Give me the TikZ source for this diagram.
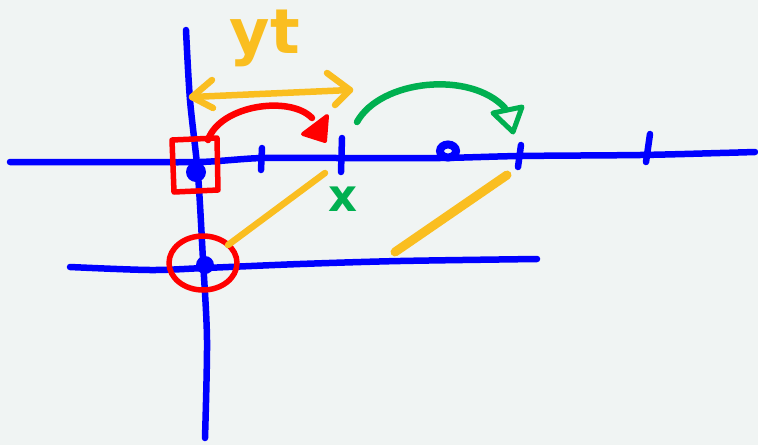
\documentclass[tikz,border=0pt]{standalone}
\usepackage{fontspec}
\setsansfont{DejaVu Sans}
\definecolor{bg}{RGB}{240,244,243}
\definecolor{pblue}{RGB}{0,0,255}
\definecolor{pred}{RGB}{255,0,0}
\definecolor{porange}{RGB}{250,190,32}
\definecolor{pgreen}{RGB}{0,176,80}
\begin{document}
\begin{tikzpicture}[x=1pt,y=-1pt,
  pen/.style={line width=6.5pt,line cap=round,line join=round}]
\fill[bg] (0,0) rectangle (758,445);
\useasboundingbox (0,0) rectangle (758,445);
% axes
\draw[pen,pblue] plot[smooth] coordinates {(186,30) (190,100) (198,175) (203,260) (207,340) (205,438)};
\draw[pen,pblue] plot[smooth] coordinates {(10,162) (120,162) (200,162) (262,158) (340,158) (440,158) (520,156) (640,155) (720,153) (755,152)};
\draw[pen,pblue] plot[smooth] coordinates {(70,267) (150,270) (205,268) (300,264) (400,261) (537,259)};
% ticks
\draw[pen,pblue] (262,148) -- (261,170);
\draw[pen,pblue] (342,138) -- (341,172);
\draw[pen,pblue] (521,145) -- (518,167);
\draw[pen,pblue] (650,134) -- (646,162);
% dots
\fill[pblue] (196,172) circle (10);
\draw[pblue,line width=8pt] (448,151) ellipse (8 and 6.5);
\fill[pblue] (205,265) circle (9);
% red marks
\draw[pen,pred,line width=5.5pt] (172,140) -- (217,138) -- (218,190) -- (174,192) -- cycle;
\draw[pen,pred] (208,140) .. controls (220,105) and (290,95) .. (312,118);
\filldraw[pred,line join=round,line width=4pt] (303,134) -- (327,116) -- (325,141) -- cycle;
\draw[pen,pred,line width=5.5pt] (203,263) ellipse (34 and 27);
% orange double arrow and label
\coordinate (al) at (192,97);
\coordinate (ar) at (350,90);
\draw[pen,porange] (al) -- (ar);
\draw[pen,porange] (212,80) -- (al) -- (213,108);
\draw[pen,porange] (327,73) -- (ar) -- (335,105);
\node[porange,anchor=base,inner sep=0pt,font=\sffamily\bfseries\fontsize{62}{62}\selectfont] (yt) at (265,53) {yt};
% green arc
\draw[pen,pgreen] (357,122) .. controls (380,80) and (470,70) .. (505,108);
\draw[pen,pgreen,line width=5pt] (493,113) -- (522,107) -- (513,132) -- cycle;
\node[pgreen,anchor=base,inner sep=0pt,font=\sffamily\bfseries\fontsize{45}{45}\selectfont] (xl) at (343,211) {x};
% orange diagonals
\draw[pen,porange] (228,245) -- (325,173);
\draw[pen,porange,line width=9pt] (395,252) -- (507,175);
\end{tikzpicture}
\end{document}
